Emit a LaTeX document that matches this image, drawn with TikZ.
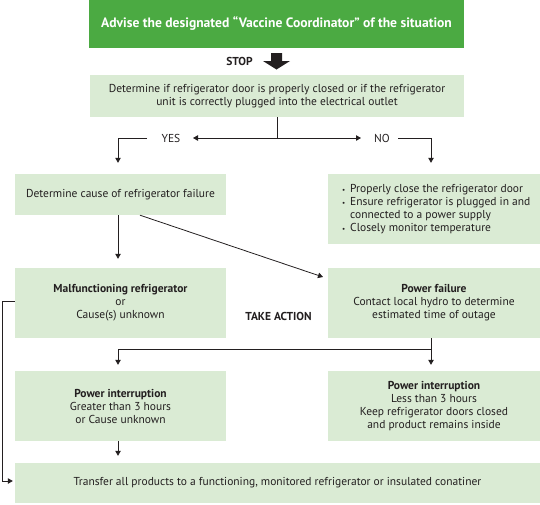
\documentclass[tikz,border=0pt]{standalone}
\usepackage{fontspec}
\setmainfont{PT Sans}
\usetikzlibrary{arrows.meta}
\definecolor{topgreen}{HTML}{4BAA42}
\definecolor{boxgreen}{HTML}{DAEBD4}
\definecolor{ink}{HTML}{231F20}
\begin{document}
\begin{tikzpicture}[x=1pt,y=-1pt,
  box/.style={fill=boxgreen, inner sep=0pt, align=center, text=ink,
    font=\fontsize{11.5}{13}\selectfont, minimum width=211pt, minimum height=70pt},
  rbox/.style={box, minimum width=212pt},
  lbl/.style={text=ink, inner sep=0pt, font=\fontsize{11.5}{13}\selectfont},
  blbl/.style={lbl, font=\bfseries\fontsize{11.5}{13}\selectfont},
  conn/.style={draw=ink, line width=0.8pt, -{Triangle[length=5pt,width=5.5pt]}},
  plain/.style={draw=ink, line width=0.8pt}]
\useasboundingbox (0,0) rectangle (540,504);

% columns
\coordinate (colL) at (118,0);
\coordinate (colR) at (431,0);

% top green box
\node[box, fill=topgreen, text=white, minimum width=375pt, minimum height=48pt,
  font=\bfseries\fontsize{13.6}{15}\selectfont] (advise) at (276.5,24)
  {Advise the designated “Vaccine Coordinator” of the situation};

% STOP
\node[blbl] (stop) at (239.5,61) {STOP};
\fill[ink] (271,53) -- (282,53) -- (282,61) -- (290,61) -- (276.5,69.5) -- (263,61) -- (271,61) -- cycle;

% check box
\node[box, minimum width=374pt, minimum height=42pt] (check) at (277,96)
  {Determine if refrigerator door is properly closed or if the refrigerator\\
   unit is correctly plugged into the electrical outlet};

% YES / NO
\coordinate (split) at (277,138);
\node[lbl] (yes) at (171,138) {YES};
\node[lbl] (no) at (382,138) {NO};
\coordinate (yestip) at (193,138);
\coordinate (notip) at (361,138);
\coordinate (yesl) at (147,138);
\coordinate (nol) at (398,138);
\draw[plain] (check.south) -- (split);
\draw[conn, {Triangle[length=5pt,width=5.5pt]}-{Triangle[length=5pt,width=5.5pt]}] (yestip) -- (notip);

% second row
\node[box, minimum height=41pt] (cause) at (120.5,194.5) {Determine cause of refrigerator failure};
\node[rbox] (bullets) at (434,209) {};
\node[lbl, anchor=west, align=left] (bullettext) at (342,209)
  {\makebox[8pt][l]{\fontsize{7}{7}\selectfont\textbullet}Properly close the refrigerator door\\
   \makebox[8pt][l]{\fontsize{7}{7}\selectfont\textbullet}Ensure refrigerator is plugged in and\\
   \hspace*{8pt}connected to a power supply\\
   \makebox[8pt][l]{\fontsize{7}{7}\selectfont\textbullet}Closely monitor temperature};

\draw[conn, shorten >=11pt] (yesl) -| (cause.north -| colL);
\draw[conn, shorten >=11pt] (nol) -| (bullets.north -| colR);

% third row
\node[box] (malf) at (120.5,303)
  {\textbf{Malfunctioning refrigerator}\\or\\Cause(s) unknown};
\node[rbox] (power) at (434,303)
  {\textbf{Power failure}\\Contact local hydro to determine\\estimated time of outage};
\node[blbl] (action) at (278.5,316) {TAKE ACTION};

\coordinate (diagE) at (323,277);
\draw[conn, shorten >=9pt] (cause.south -| colL) -- (malf.north -| colL);
\draw[conn] ([xshift=19.5pt]cause.south) -- (diagE);

% fourth row
\node[box] (pil) at (120.5,406)
  {\textbf{Power interruption}\\Greater than 3 hours\\or Cause unknown};
\node[rbox] (pir) at (434,406)
  {\textbf{Power interruption}\\Less than 3 hours\\Keep refrigerator doors closed\\and product remains inside};

\coordinate (jR) at (431,349);
\draw[conn, shorten >=6pt] (power.south -| colR) -- (pir.north -| colR);
\draw[conn, shorten >=6pt] (jR) -| (pil.north -| colL);

% bottom box
\node[box, minimum width=525pt, minimum height=40pt] (transfer) at (277.5,483)
  {Transfer all products to a functioning, monitored refrigerator or insulated conatiner};

\draw[conn, shorten >=7pt] (pil.south -| colL) -- (transfer.north -| colL);
\draw[conn, shorten >=2pt] ([yshift=2pt]malf.west) -- ++(-12,0) |- ([yshift=2pt]transfer.west);
\end{tikzpicture}
\end{document}
